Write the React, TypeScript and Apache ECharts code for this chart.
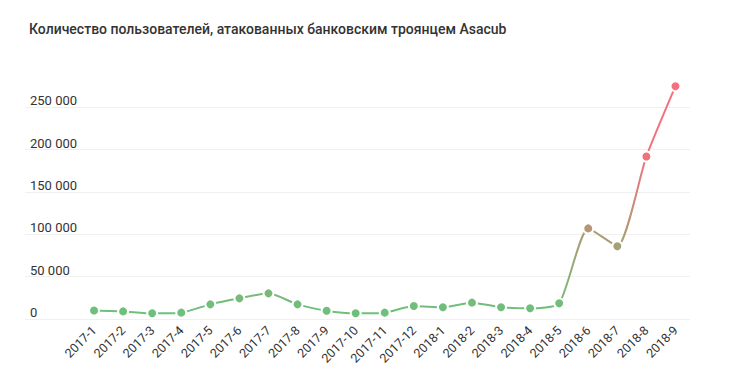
import React, { useEffect, useRef } from "react";
import * as echarts from "echarts";

const categories = [
  "2017-1", "2017-2", "2017-3", "2017-4", "2017-5", "2017-6", "2017-7",
  "2017-8", "2017-9", "2017-10", "2017-11", "2017-12", "2018-1", "2018-2",
  "2018-3", "2018-4", "2018-5", "2018-6", "2018-7", "2018-8", "2018-9",
];
const users = [
  10000, 9000, 6700, 7500, 17300, 24400, 30300, 17300, 9800, 6700, 7500,
  15300, 13800, 19300, 13800, 12600, 18500, 107000, 86000, 192000, 275000,
];
const yTicks = [0, 50000, 100000, 150000, 200000, 250000, 300000];
const title = "Количество пользователей, атакованных банковским троянцем Asacub";

const fmt = (v: number) => String(v).replace(/\B(?=(\d{3})+(?!\d))/g, " ");

export default function App() {
  const ref = useRef<HTMLDivElement>(null);
  useEffect(() => {
    document.body.style.margin = "0";
    if (!ref.current) return;
    const chart = echarts.init(ref.current, undefined, { renderer: "svg" });
    const yMax = yTicks[yTicks.length - 1];
    chart.setOption({
      animation: false,
      textStyle: { fontFamily: "Roboto" },
      title: {
        text: title,
        left: 24,
        top: 17,
        textStyle: { fontFamily: "Roboto", fontSize: 14, fontWeight: 500, color: "#333" },
      },
      grid: [
        { left: 25, right: 40, top: 65, bottom: 66 },
        { left: 79.5, right: 40, top: 65, bottom: 66 },
      ],
      xAxis: [
        { type: "value", gridIndex: 0, show: false, min: 0, max: 1 },
        {
          type: "category",
          gridIndex: 1,
          data: categories,
          boundaryGap: true,
          axisLine: { show: false },
          axisTick: { show: false },
          axisLabel: { rotate: 45, fontSize: 12.5, color: "#333", fontFamily: "Roboto", margin: 9, interval: 0 },
        },
      ],
      yAxis: [
        {
          type: "value",
          gridIndex: 0,
          min: 0,
          max: yMax,
          interval: 50000,
          axisLine: { show: false },
          axisTick: { show: false },
          axisLabel: {
            inside: true,
            margin: 5,
            align: "left",
            verticalAlign: "bottom",
            fontSize: 13,
            color: "#333",
            fontFamily: "Roboto",
            formatter: (v: number) => (v >= yMax ? "" : fmt(v)),
          },
          splitLine: {
            lineStyle: {
              color: ["#f0f0f0", "#f0f0f0", "#f0f0f0", "#f0f0f0", "#f0f0f0", "#f0f0f0", "rgba(0,0,0,0)"],
              width: 1,
            },
          },
        },
        { type: "value", gridIndex: 1, min: 0, max: yMax, show: false, splitLine: { show: false } },
      ],
      visualMap: {
        show: false,
        type: "continuous",
        seriesIndex: 0,
        dimension: 1,
        min: 0,
        max: 200000,
        inRange: { color: ["#66c47c", "#b09a76", "#f4707f"] },
      },
      series: [
        {
          type: "line",
          xAxisIndex: 1,
          yAxisIndex: 1,
          data: users,
          smooth: 0.2,
          symbol: "circle",
          symbolSize: 10,
          lineStyle: { width: 2 },
          itemStyle: { borderColor: "#fff", borderWidth: 2 },
        },
      ],
    });
    return () => chart.dispose();
  }, []);
  return <div ref={ref} style={{ width: 730, height: 385 }} />;
}
